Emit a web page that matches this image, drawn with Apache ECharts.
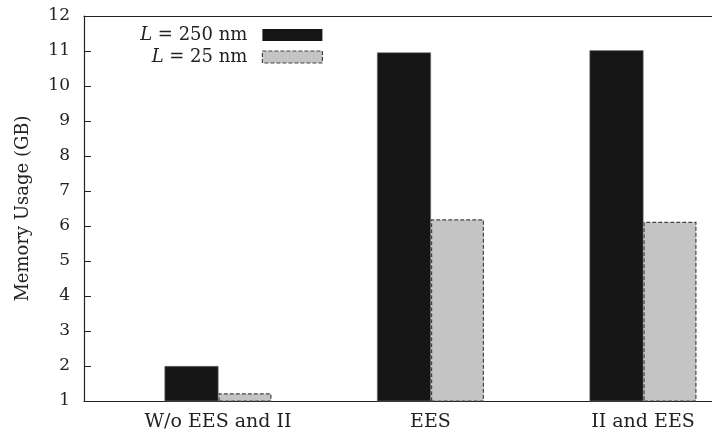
<!DOCTYPE html>
<html>
<head>
<meta charset="utf-8">
<script src="https://cdn.jsdelivr.net/npm/echarts@6/dist/echarts.min.js"></script>
<style>
 html,body{margin:0;padding:0;background:#fff;}
 #main{width:712px;height:436px;}
</style>
</head>
<body>
<div id="main"></div>
<script>
//类别及数据
var categories = ['W/o EES and II', 'EES', 'II and EES'];
var seriesNames = ['L = 250 nm', 'L = 25 nm'];
var mem250 = [2.0, 10.96, 11.02];
var mem25 = [1.22, 6.19, 6.12];
var yTicks = [1, 12, 1];   //min, max, interval

var FONT = 'DejaVu Serif';

function toPoints(arr){
	var pts = [];
	for(var i=0;i<arr.length;i++){
		pts.push([i, arr[i]]);
	}
	return pts;
}

var myChart = echarts.init(document.getElementById('main'));
var option = {
	backgroundColor: '#fff',
	animation: false,
	textStyle: { fontFamily: FONT, color: '#222' },
	grid: { left: 84, top: 16, right: 0, bottom: 35 },
	legend: {
		orient: 'vertical',
		right: 389,
		top: 26,
		align: 'right',
		padding: 0,
		itemWidth: 60,
		itemHeight: 12,
		itemGap: 4,
		icon: 'rect',
		selectedMode: false,
		textStyle: {
			fontFamily: FONT, fontSize: 18, color: '#222',
			rich: {
				it: { fontStyle: 'italic', fontFamily: FONT, fontSize: 18, color: '#222' },
				g: { width: 10 }
			}
		},
		formatter: function(name){
			return '{it|L}' + name.substring(1) + '{g|}';
		},
		data: [
			{ name: seriesNames[0], itemStyle: { borderWidth: 0 } },
			{ name: seriesNames[1], itemStyle: { borderColor: '#444', borderWidth: 1.2, borderType: [4, 2] } }
		]
	},
	xAxis: [{
		type: 'value',
		min: -0.6306,
		max: 2.3247,
		position: 'bottom',
		splitLine: { show: false },
		axisLine: { show: true, onZero: false, lineStyle: { color: '#222', width: 1.2 } },
		axisTick: { show: false },
		axisLabel: {
			customValues: [0, 1, 2],
			margin: 12,
			fontFamily: FONT,
			fontSize: 19,
			color: '#222',
			formatter: function(v){ return categories[Math.round(v)]; }
		}
	},{
		type: 'value',
		min: -0.6306,
		max: 2.3247,
		position: 'top',
		splitLine: { show: false },
		axisLine: { show: true, onZero: false, lineStyle: { color: '#222', width: 1.2 } },
		axisTick: { show: false },
		axisLabel: { show: false }
	}],
	yAxis: {
		type: 'value',
		min: yTicks[0],
		max: yTicks[1],
		interval: yTicks[2],
		name: 'Memory Usage (GB)',
		nameLocation: 'middle',
		nameGap: 52,
		nameTextStyle: { fontFamily: FONT, fontSize: 18, color: '#222' },
		splitLine: { show: false },
		axisLine: { show: true, onZero: false, lineStyle: { color: '#222', width: 1.2 } },
		axisTick: { show: true, inside: true, length: 7, lineStyle: { color: '#222' } },
		axisLabel: { margin: 14, fontFamily: FONT, fontSize: 17, color: '#222' }
	},
	series: [{
		name: seriesNames[0],
		type: 'bar',
		barWidth: 54,
		barGap: '0%',
		itemStyle: { color: '#161616', borderColor: '#777', borderWidth: 0.6 },
		data: toPoints(mem250)
	},{
		name: seriesNames[1],
		type: 'bar',
		barWidth: 53,
		barGap: '0%',
		itemStyle: { color: '#c4c4c4', borderColor: '#444', borderWidth: 1.2, borderType: [4, 2] },
		data: toPoints(mem25)
	}]
};
myChart.setOption(option);
</script>
</body>
</html>
